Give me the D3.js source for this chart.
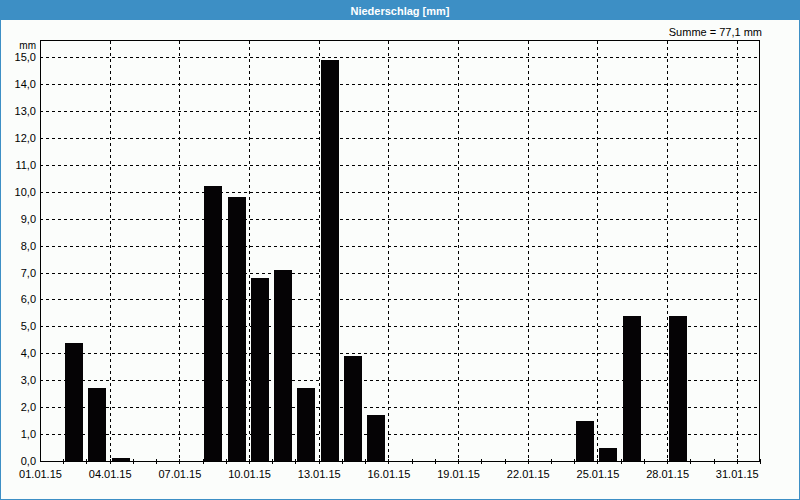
<!DOCTYPE html>
<html><head><meta charset="utf-8">
<script src="https://cdn.jsdelivr.net/npm/d3@7"></script>
<style>
html,body{margin:0;padding:0;background:#fff;}
svg{display:block;}
text{font-family:"Liberation Sans",Arial,sans-serif;}
</style></head>
<body>
<svg id="c" width="800" height="500"></svg>
<script>
const title = "Niederschlag [mm]";
const unitLabel = "mm";
const sumLabel = "Summe = 77,1 mm";
const dates = ["02.01.15","03.01.15","04.01.15","08.01.15","09.01.15","10.01.15","11.01.15","12.01.15","13.01.15","14.01.15","15.01.15","24.01.15","25.01.15","26.01.15","28.01.15"];
const values = [4.4,2.7,0.1,10.2,9.8,6.8,7.1,2.7,14.9,3.9,1.7,1.5,0.5,5.4,5.4];
const yTicks = [0,1,2,3,4,5,6,7,8,9,10,11,12,13,14,15];
const xTickLabels = ["01.01.15","04.01.15","07.01.15","10.01.15","13.01.15","16.01.15","19.01.15","22.01.15","25.01.15","28.01.15","31.01.15"];

const parse = d3.timeParse("%d.%m.%y");
const fmtDate = d3.timeFormat("%d.%m.%y");
const svg = d3.select("#c");
const W = 800, H = 500;
const m = {left:40, right:760, top:41, bottom:461};

// background & border
svg.append("rect").attr("x",0).attr("y",0).attr("width",W).attr("height",H).attr("fill","#3d8fc5");
svg.append("rect").attr("x",1).attr("y",20).attr("width",W-2).attr("height",H-21).attr("fill","#fbfdfb");
svg.append("text").attr("x",400).attr("y",14.5).attr("text-anchor","middle")
  .attr("fill","#fff").attr("font-size","11px").attr("font-weight","bold").text(title);

const x = d3.scaleTime().domain([parse("01.01.15"), parse("01.02.15")]).range([m.left, m.right]);
const y = d3.scaleLinear().domain([0,15.6]).range([m.bottom, m.top]);

const dayW = x(parse("02.01.15")) - x(parse("01.01.15"));
const gridDates = xTickLabels.map(parse);
const allDays = d3.timeDay.range(parse("01.01.15"), parse("01.02.15"));

// horizontal grid
svg.append("g").selectAll("line").data(yTicks.filter(v=>v>0)).join("line")
  .attr("x1",m.left).attr("x2",m.right)
  .attr("y1",d=>Math.round(y(d))+0.5).attr("y2",d=>Math.round(y(d))+0.5)
  .attr("stroke","#000").attr("stroke-width",1).attr("stroke-dasharray","3,3");
// vertical grid
svg.append("g").selectAll("line").data(gridDates.slice(1)).join("line")
  .attr("x1",d=>Math.round(x(d))+0.5).attr("x2",d=>Math.round(x(d))+0.5)
  .attr("y1",m.top).attr("y2",m.bottom)
  .attr("stroke","#000").attr("stroke-width",1).attr("stroke-dasharray","3,3");

// bars
svg.append("g").selectAll("rect").data(dates.map((d,i)=>({d:parse(d),v:values[i]}))).join("rect")
  .attr("x",d=>Math.round(x(d.d)+dayW*0.08))
  .attr("width",Math.round(dayW*0.78))
  .attr("y",d=>Math.round(y(d.v)))
  .attr("height",d=>Math.round(m.bottom)-Math.round(y(d.v)))
  .attr("fill","#050305");

// frame
svg.append("rect").attr("x",m.left+0.5).attr("y",m.top-0.5).attr("width",m.right-m.left-1).attr("height",m.bottom-m.top+1)
  .attr("fill","none").attr("stroke","#000").attr("stroke-width",1);

// y axis
const yAx = d3.axisLeft(y).tickValues(yTicks).tickSize(0).tickPadding(4)
  .tickFormat(d=>d3.format(".1f")(d).replace(".",","));
const gy = svg.append("g").attr("transform",`translate(${m.left},0)`).call(yAx);
gy.select(".domain").remove();
gy.selectAll("text").attr("font-size","11px").attr("fill","#000").attr("font-family","Liberation Sans, Arial, sans-serif");

// x axis
const xAx = d3.axisBottom(x).tickValues(gridDates).tickSize(0).tickPadding(9).tickFormat(fmtDate);
const gx = svg.append("g").attr("transform",`translate(0,${m.bottom})`).call(xAx);
gx.select(".domain").remove();
gx.selectAll("text").attr("font-size","11px").attr("fill","#000").attr("font-family","Liberation Sans, Arial, sans-serif");
// day ticks
svg.append("g").selectAll("line").data(allDays.slice(1).concat([parse("01.02.15")])).join("line")
  .attr("x1",d=>Math.round(x(d))+0.5).attr("x2",d=>Math.round(x(d))+0.5)
  .attr("y1",m.bottom-2).attr("y2",m.bottom+3)
  .attr("stroke","#000").attr("stroke-width",1);

svg.append("text").attr("x",36).attr("y",49).attr("text-anchor","end").attr("font-size","10px").attr("fill","#000").text(unitLabel);
svg.append("text").attr("x",762).attr("y",36).attr("text-anchor","end").attr("font-size","11px").attr("fill","#000").text(sumLabel);
</script>
</body></html>
